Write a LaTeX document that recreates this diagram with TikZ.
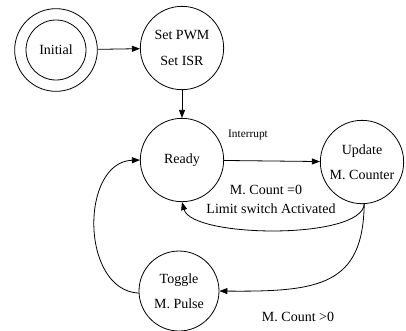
\documentclass[tikz,border=0pt]{standalone}
\usepackage{fontspec}
\setmainfont{Liberation Serif}
\usetikzlibrary{arrows.meta}
\begin{document}
\begin{tikzpicture}[x=0.75pt,y=-0.75pt,
  state/.style={draw, circle, line width=0.6pt, minimum size=62.5pt, inner sep=0pt, align=center,
     font=\fontsize{10.5}{19}\selectfont},
  conn/.style={line width=0.6pt, -{Triangle[length=6pt,width=4.5pt]}},
  lbl/.style={font=\fontsize{10.5}{12}\selectfont, inner sep=0pt}]
\useasboundingbox (0,0) rectangle (406,330);
\node[state, minimum size=45pt] (init) at (56,50) {Initial};
\node[draw, circle, line width=0.6pt, minimum size=62pt] (initout) at (56,50) {};
\node[state] (pwm) at (182,48) {Set PWM\\Set ISR};
\node[state] (ready) at (182,160) {Ready};
\node[state] (upd) at (362,162) {Update\\M. Counter};
\node[state, minimum size=60pt] (tog) at (179,291) {Toggle\\M. Pulse};
\coordinate (ub) at (upd.-87);
\draw[conn] (initout) -- (pwm);
\draw[conn] (pwm) -- (ready);
\draw[conn] (ready) -- (upd);
\draw[conn] (ub) .. controls (362,240) and (192,238) .. (ready.-90);
\draw[conn] (ub) .. controls (363,285) and (320,292) .. (tog.east);
\draw[conn] (tog.183) .. controls (80,290) and (80,162) .. (ready.west);
\node[lbl, font=\fontsize{8.5}{10}\selectfont] (int) at (248,135) {Interrupt};
\node[lbl] (c0) at (266,190) {M. Count =0};
\node[lbl] (lim) at (271,209) {Limit switch Activated};
\node[lbl] (cg) at (298,317) {M. Count >0};
\end{tikzpicture}
\end{document}
